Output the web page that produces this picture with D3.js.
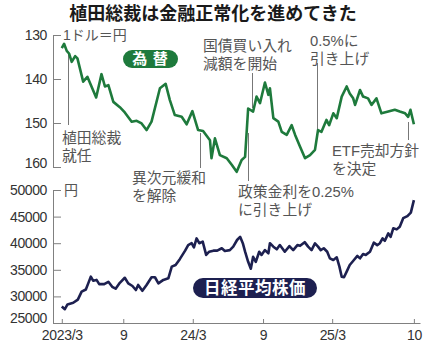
<!DOCTYPE html>
<html><head><meta charset="utf-8">
<script src="https://cdn.jsdelivr.net/npm/d3@7"></script>
<style>
html,body{margin:0;padding:0;background:#fff;}
svg{display:block;font-family:"Noto Sans CJK JP","Noto Sans",sans-serif;}
</style></head><body>
<svg id="c" width="425" height="347"></svg>
<script>
const title = "植田総裁は金融正常化を進めてきた";

const fxDates = ["2023-03-24","2023-03-30","2023-04-06","2023-04-12","2023-04-19","2023-04-28","2023-05-04","2023-05-19","2023-05-30","2023-06-22","2023-07-06","2023-07-15","2023-07-24","2023-08-06","2023-08-23","2023-09-05","2023-09-23","2023-10-06","2023-10-19","2023-11-01","2023-11-14","2023-12-06","2023-12-21","2024-01-01","2024-01-14","2024-02-01","2024-02-14","2024-02-29","2024-03-15","2024-03-28","2024-04-15","2024-04-19","2024-04-28","2024-05-11","2024-05-29","2024-06-11","2024-06-24","2024-07-07","2024-07-16","2024-07-24","2024-08-06","2024-08-15","2024-08-24","2024-09-06","2024-09-15","2024-09-19","2024-09-28","2024-10-11","2024-10-20","2024-11-02","2024-11-15","2024-11-24","2024-12-07","2024-12-20","2025-01-02","2025-01-15","2025-01-23","2025-02-01","2025-02-14","2025-02-21","2025-03-04","2025-03-13","2025-03-26","2025-04-08","2025-04-16","2025-04-25","2025-04-30","2025-05-13","2025-05-21","2025-06-03","2025-06-12","2025-06-25","2025-07-08","2025-07-26","2025-08-12","2025-08-25","2025-09-08","2025-09-16","2025-09-22","2025-10-01"];
const fxValues = [133.0,132.0,133.6,134.2,136.1,134.8,135.3,140.6,139.5,144.2,138.9,141.7,141.4,145.2,146.4,147.6,149.7,149.5,150.1,151.6,149.7,142.1,141.1,144.8,148.2,148.6,150.3,147.3,151.6,151.8,153.9,158.0,153.5,157.3,158.0,159.5,161.1,158.4,157.7,146.7,147.4,144.0,145.5,140.8,143.6,142.1,148.9,149.7,152.0,152.7,150.5,152.7,155.4,158.0,157.3,156.1,151.6,152.0,149.3,150.5,147.8,148.9,144.0,141.7,143.3,144.4,145.9,142.5,144.0,144.4,145.9,144.4,147.8,147.4,147.0,147.4,147.8,148.6,147.0,150.3];

const nkDates = ["2023-03-24","2023-04-01","2023-04-08","2023-04-23","2023-05-05","2023-05-15","2023-05-26","2023-06-01","2023-06-08","2023-06-14","2023-06-23","2023-06-30","2023-07-13","2023-07-24","2023-08-03","2023-08-12","2023-08-23","2023-09-05","2023-09-14","2023-09-25","2023-10-04","2023-10-10","2023-10-21","2023-11-01","2023-11-14","2023-11-23","2023-12-02","2023-12-15","2023-12-28","2024-01-06","2024-01-16","2024-01-27","2024-02-10","2024-02-18","2024-02-27","2024-03-04","2024-03-11","2024-03-18","2024-03-27","2024-04-05","2024-04-13","2024-04-24","2024-05-04","2024-05-16","2024-05-24","2024-06-06","2024-06-15","2024-06-25","2024-07-03","2024-07-10","2024-07-16","2024-07-24","2024-07-31","2024-08-06","2024-08-13","2024-08-22","2024-08-28","2024-09-06","2024-09-15","2024-09-19","2024-09-28","2024-10-07","2024-10-15","2024-10-28","2024-11-09","2024-11-19","2024-11-30","2024-12-07","2024-12-19","2024-12-28","2025-01-06","2025-01-15","2025-01-23","2025-01-30","2025-02-07","2025-02-16","2025-02-23","2025-03-04","2025-03-13","2025-03-20","2025-03-26","2025-04-01","2025-04-08","2025-04-16","2025-04-27","2025-05-06","2025-05-13","2025-05-21","2025-05-28","2025-06-08","2025-06-18","2025-06-27","2025-07-04","2025-07-11","2025-07-17","2025-07-26","2025-08-01","2025-08-08","2025-08-17","2025-08-25","2025-09-03","2025-09-14","2025-09-23","2025-10-01"];
const nkValues = [28100,27600,28500,28800,29400,30900,31300,32400,33700,32950,33100,32300,32300,32750,31800,31450,32550,33500,32450,31950,31200,32150,31050,32150,33600,33600,32450,33100,33400,35600,35900,37000,38600,39650,40000,39200,40900,40000,40300,37800,38400,38600,38600,39050,38550,38700,39350,40600,41200,40000,38400,36500,35200,37450,36500,38400,37800,38700,38100,40000,39350,38850,39650,38400,39450,38700,39650,39500,40200,39350,38700,39950,39350,38700,39050,38400,37150,36850,37350,35600,33700,33600,34650,35900,36850,37600,37150,37950,37800,38400,40100,39650,40000,40900,40450,41850,41200,42800,42600,43100,44700,45100,45750,48100];

const xTickDates = ["2023-03-24","2023-09-01","2024-03-01","2024-09-01","2025-03-01","2025-10-01"];
const xTickLabels = ["2023/3","9","24/3","9","25/3","10"];
const fxTicks = [130,140,150,160];
const nkTicks = [25000,30000,35000,40000,45000,50000];

const eventDates = ["2023-04-08","2024-03-21","2024-08-03","2024-07-24","2025-01-21","2025-09-16"];
const eventLabels = [["植田総裁","就任"],["異次元緩和","を解除"],["国債買い入れ","減額を開始"],["政策金利を0.25%","に引き上げ"],["0.5%に","引き上げ"],["ETF売却方針","を決定"]];

// layout (positions / styles only)
const eventLayout = [
  {y1:53, y2:125, tx:62, ty:143},
  {y1:133, y2:168, tx:132, ty:183},
  {y1:73, y2:108, tx:203, ty:51},
  {y1:133, y2:181, tx:238, ty:197},
  {y1:63, y2:130, tx:310, ty:46},
  {y1:122, y2:140, tx:332, ty:156}
];

const parse = d3.timeParse("%Y-%m-%d");
const svg = d3.select("#c");
const GREEN = "#1e7a3c", NAVY = "#1d2050", AX = "#808080", TXT = "#333", ANN = "#555";

const x = d3.scaleTime().domain([parse("2023-03-01"), parse("2025-10-17")]).range([53, 420]);
const yFx = d3.scaleLinear().domain([130,160]).range([35,167]);
const yNk = d3.scaleLinear().domain([25000,50000]).range([323,190]);

// title
svg.append("text").attr("x", 213).attr("y", 20).attr("text-anchor","middle")
  .attr("font-size", 18).attr("font-weight", 700).attr("fill", "#1a1a1a").text(title);

const numFont = "'Liberation Sans', Arial, sans-serif";
const annFont = "'Liberation Sans', 'Noto Sans CJK JP', sans-serif";

function leftAxis(scale, ticks, lift) {
  const g = svg.append("g").attr("transform","translate(53,0)")
    .call(d3.axisLeft(scale).tickValues(ticks).tickSize(-8).tickSizeOuter(0).tickPadding(6).tickFormat(d=>d));
  g.select(".domain").attr("stroke", AX);
  g.selectAll(".tick line").attr("stroke", AX);
  g.selectAll(".tick text").attr("fill", TXT).attr("font-size", 14).attr("font-family", numFont)
    .attr("letter-spacing", -0.4)
    .attr("dy", d => (lift[d] ? (0.32 - lift[d]/14) + "em" : "0.32em"));
  return g;
}
leftAxis(yFx, fxTicks, {160:4});
leftAxis(yNk, nkTicks, {25000:5});

// unit labels
svg.append("text").attr("x", 63).attr("y", yFx(130)+5).attr("font-size", 14).attr("font-family", annFont).attr("fill", ANN).text("1ドル＝円");
svg.append("text").attr("x", 64).attr("y", yNk(50000)+5).attr("font-size", 14).attr("font-family", annFont).attr("fill", ANN).text("円");

// x axis
const xa = svg.append("g").attr("transform","translate(0,323)")
  .call(d3.axisBottom(x).tickValues(xTickDates.map(parse)).tickSize(-4).tickSizeOuter(0).tickPadding(7)
    .tickFormat((d,i)=>xTickLabels[i]));
xa.select(".domain").attr("stroke", AX);
xa.selectAll(".tick line").attr("stroke", AX);
xa.selectAll(".tick text").attr("fill", TXT).attr("font-size", 14).attr("font-family", numFont).attr("letter-spacing", -0.3);

// annotations (each line its own text element)
eventDates.forEach((d,i) => {
  const L = eventLayout[i];
  const ex = Math.round(x(parse(d))) + 0.5;
  svg.append("line").attr("x1", ex).attr("x2", ex).attr("y1", L.y1).attr("y2", L.y2)
    .attr("stroke", "#777").attr("stroke-width", 1);
  eventLabels[i].forEach((s,j) => {
    svg.append("text").attr("x", L.tx).attr("y", L.ty + j*17.8)
      .attr("font-size", 14.8).attr("font-family", annFont).attr("fill", ANN).text(s);
  });
});

// lines
const fxData = fxDates.map((d,i)=>({d:parse(d), v:fxValues[i]}));
const nkData = nkDates.map((d,i)=>({d:parse(d), v:nkValues[i]}));
svg.append("path").datum(fxData)
  .attr("d", d3.line().x(p=>x(p.d)).y(p=>yFx(p.v)))
  .attr("fill","none").attr("stroke", GREEN).attr("stroke-width", 2.6).attr("stroke-linejoin","round");
svg.append("path").datum(nkData)
  .attr("d", d3.line().x(p=>x(p.d)).y(p=>yNk(p.v)))
  .attr("fill","none").attr("stroke", NAVY).attr("stroke-width", 2.6).attr("stroke-linejoin","round");

// badges
function badge(cx, cy, w, h, fill, label, fs, ls) {
  svg.append("rect").attr("x", cx - w/2).attr("y", cy - h/2).attr("width", w).attr("height", h)
    .attr("rx", h/2).attr("fill", fill);
  svg.append("text").attr("x", cx).attr("y", cy).attr("dy","0.36em").attr("text-anchor","middle")
    .attr("font-size", fs).attr("font-weight", 700).attr("fill", "#fff").attr("letter-spacing", ls).text(label);
}
badge(150.5, 59, 55, 18, GREEN, "為 替", 15, 1);
badge(255, 288, 124, 20, NAVY, "日経平均株価", 16.5, 0.5);
</script>
</body></html>
